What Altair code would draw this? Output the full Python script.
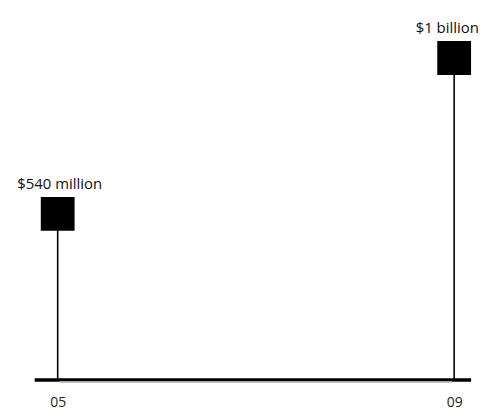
import altair as alt
import pandas as pd

years = ["05", "09"]
values = [540, 1000]
labels = ["$540 million", "$1 billion"]

df = pd.DataFrame({"year": years, "value": values, "label": labels})

W, H = 471, 373
xs = alt.X("year:O", scale=alt.Scale(type="point", range=[50, 449], padding=0),
           axis=alt.Axis(title=None, ticks=False, domain=False, labelAngle=0,
                         labelPadding=16, labelFontSize=14, labelFont="Open Sans",
                         labelColor="#222"))
ys = alt.Y("value:Q", scale=alt.Scale(domain=[0, 1094], nice=False, zero=True),
           axis=None)

base = alt.Chart(df)

stems = base.mark_rule(color="black", strokeWidth=1.6).encode(
    x=xs, y=ys, y2=alt.datum(0))

squares = base.mark_square(color="black", opacity=1, size=1156, yOffset=17).encode(
    x=xs, y=ys)

text1 = base.transform_filter(alt.datum.year == "05").mark_text(
    font="Open Sans", fontSize=15, baseline="alphabetic", dy=-8, dx=2, color="#111").encode(
    x=xs, y=ys, text="label:N")
text2 = base.transform_filter(alt.datum.year == "09").mark_text(
    font="Open Sans", fontSize=15, baseline="alphabetic", dy=-8, dx=-7, color="#111").encode(
    x=xs, y=ys, text="label:N")

baseline = alt.Chart(df).mark_rule(color="black", strokeWidth=3).encode(
    x=alt.value(27), x2=alt.value(466), y=alt.value(373))
grayline = alt.Chart(df).mark_rule(color="#aaa", strokeWidth=1.5).encode(
    x=alt.value(52), x2=alt.value(447), y=alt.value(374.8))

chart = alt.layer(stems, baseline, grayline, squares, text1, text2).properties(
    width=W, height=H, autosize=alt.AutoSizeParams(type="pad"), padding=0
).configure(background="white").configure_view(stroke=None)

chart.save("out.html", embed_options={"renderer": "svg", "actions": False})
